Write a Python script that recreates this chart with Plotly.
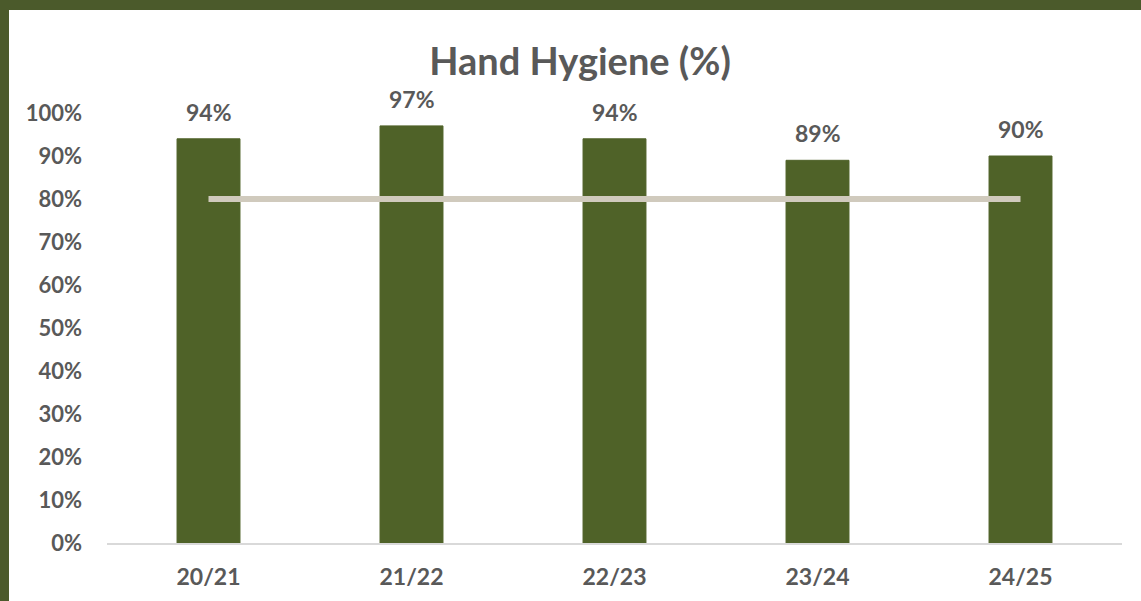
import plotly.graph_objects as go

categories = ["20/21", "21/22", "22/23", "23/24", "24/25"]
values = [0.94, 0.97, 0.94, 0.89, 0.90]
target = [0.80, 0.80, 0.80, 0.80, 0.80]
y_ticks = [i / 10 for i in range(0, 11)]
y_tick_labels = [f"{i * 10}%" for i in range(0, 11)]

BAR = "#4F6228"
FRAME = "#4B5A2B"
TXT = "#595959"
LINE = "#D0CABD"
FONT = "Lato"

W, H = 1141, 601
ml, mr, mt, mb = 107, 19, 113, 58
pw, ph = W - ml - mr, H - mt - mb

fig = go.Figure()
fig.add_trace(go.Bar(
    x=categories, y=values, width=0.31,
    marker=dict(color=BAR, line=dict(color=BAR, width=1)),
    hoverinfo="skip", showlegend=False,
))
fig.add_trace(go.Scatter(
    x=categories, y=target, mode="lines",
    line=dict(color=LINE, width=6),
    hoverinfo="skip", showlegend=False, cliponaxis=False,
))

for c, v in zip(categories, values):
    fig.add_annotation(
        x=c, y=v, text=f"{round(v * 100)}%", showarrow=False,
        yanchor="middle", yshift=27,
        font=dict(family=FONT, size=23, color=TXT, weight="bold"),
    )

# white panel with dark green frame on left/top
fig.add_shape(
    type="rect", xref="paper", yref="paper", layer="below",
    x0=(9 - ml) / pw, x1=(W + 20 - ml) / pw,
    y0=-(H + 20 - mt - ph) / ph, y1=(H - mb - 10) / ph,
    fillcolor="white", line=dict(width=0),
)

fig.update_layout(
    width=W, height=H,
    margin=dict(l=ml, r=mr, t=mt, b=mb, autoexpand=False),
    paper_bgcolor=FRAME, plot_bgcolor="rgba(0,0,0,0)",
    title=dict(
        text="Hand Hygiene (%)", x=(580 - ml) / pw, xref="paper", xanchor="center",
        y=1 - 62 / H, yanchor="middle",
        font=dict(family=FONT, size=38, color=TXT, weight="bold"),
    ),
    bargap=0.69,
)
fig.update_xaxes(
    showgrid=False, showline=True, linecolor="#D9D9D9", linewidth=2,
    ticks="", tickfont=dict(family=FONT, size=23, color=TXT, weight="bold"),
    ticklabelstandoff=12, automargin=False,
)
fig.update_yaxes(
    range=[0, 1], showgrid=False, zeroline=False, showline=False,
    tickvals=y_ticks, ticktext=y_tick_labels, ticks="",
    tickfont=dict(family=FONT, size=22, color=TXT, weight="bold"),
    ticklabelstandoff=24, automargin=False,
)

fig.write_html("out.html", config={"displayModeBar": False})

# remove default body margin so the figure fills the window exactly
with open("out.html", encoding="utf-8") as f:
    html = f.read()
html = html.replace("<head>", "<head><style>html,body{margin:0;padding:0;overflow:hidden}</style>", 1)
with open("out.html", "w", encoding="utf-8") as f:
    f.write(html)
